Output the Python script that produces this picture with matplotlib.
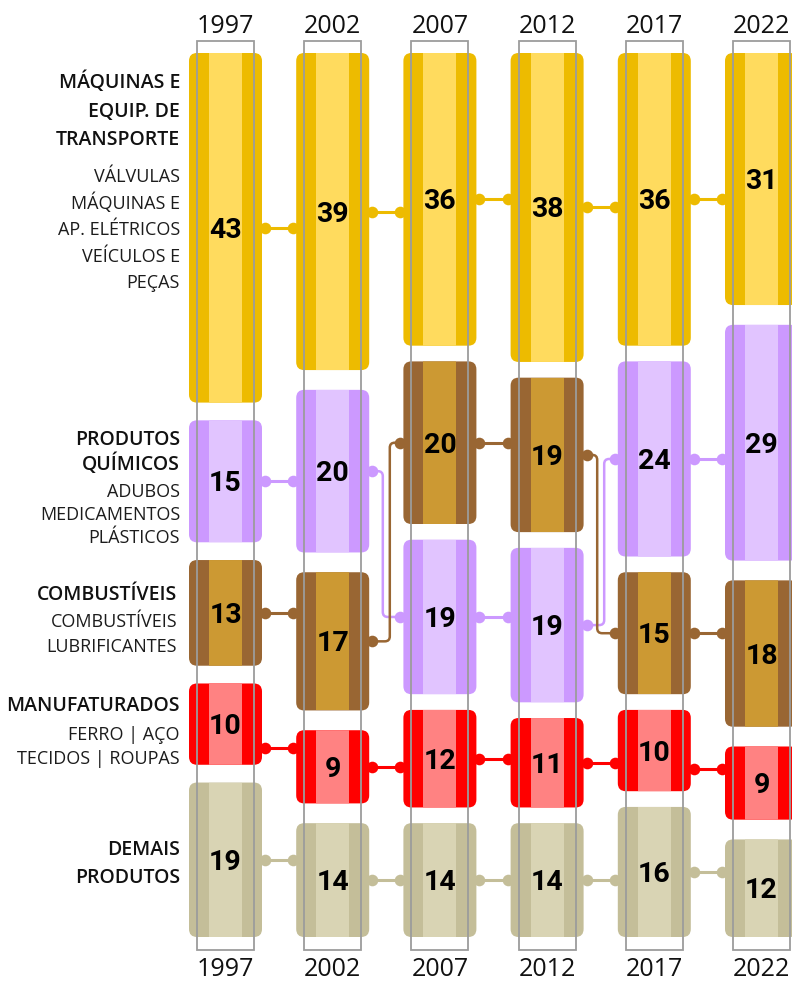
import matplotlib
matplotlib.use('Agg')
import matplotlib.pyplot as plt
from matplotlib.patches import FancyBboxPatch, Rectangle, PathPatch
from matplotlib.path import Path

# data
years = ['1997', '2002', '2007', '2012', '2017', '2022']
categories = ['maq', 'quim', 'comb', 'manuf', 'demais']

maquinas = [43, 39, 36, 38, 36, 31]
quimicos = [15, 20, 19, 19, 24, 29]
combustiveis = [13, 17, 20, 19, 15, 18]
manufaturados = [10, 9, 12, 11, 10, 9]
demais = [19, 14, 14, 14, 16, 12]

values = {'maq': maquinas, 'quim': quimicos, 'comb': combustiveis,
          'manuf': manufaturados, 'demais': demais}

# order of the blocks, top to bottom, in each year
stack_order = [
    ['maq', 'quim', 'comb', 'manuf', 'demais'],
    ['maq', 'quim', 'comb', 'manuf', 'demais'],
    ['maq', 'comb', 'quim', 'manuf', 'demais'],
    ['maq', 'comb', 'quim', 'manuf', 'demais'],
    ['maq', 'quim', 'comb', 'manuf', 'demais'],
    ['maq', 'quim', 'comb', 'manuf', 'demais'],
]

headings = {
    'maq': ['MÁQUINAS E', 'EQUIP. DE', 'TRANSPORTE'],
    'quim': ['PRODUTOS', 'QUÍMICOS'],
    'comb': ['COMBUSTÍVEIS'],
    'manuf': ['MANUFATURADOS'],
    'demais': ['DEMAIS', 'PRODUTOS'],
}
sublabels = {
    'maq': ['VÁLVULAS', 'MÁQUINAS E', 'AP. ELÉTRICOS', 'VEÍCULOS E', 'PEÇAS'],
    'quim': ['ADUBOS', 'MEDICAMENTOS', 'PLÁSTICOS'],
    'comb': ['COMBUSTÍVEIS', 'LUBRIFICANTES'],
    'manuf': ['FERRO | AÇO', 'TECIDOS | ROUPAS'],
    'demais': [],
}

# colours: (stripes / connectors, middle)
colors = {
    'maq': ('#EDBB00', '#FFDB5E'),
    'quim': ('#CC99FF', '#E1C4FF'),
    'comb': ('#996633', '#CC9933'),
    'manuf': ('#FF0000', '#FF8282'),
    'demais': ('#C4BE99', '#D9D4B4'),
}

# layout (pixels)
W, H = 792, 981
X0, PX_X = 225.5, 107.2     # first column centre, column spacing
Y0, PX_Y = 53, 8.13         # stack top, pixels per percentage point
STACK = (937 - Y0) / PX_Y


def dx(p):
    return p / PX_X


def dy(p):
    return p / PX_Y


def X(p):
    return (p - X0) / PX_X


def Y(p):
    return (p - Y0) / PX_Y


fig = plt.figure(figsize=(W / 100, H / 100), dpi=100)
ax = fig.add_axes([0, 0, 1, 1])
ax.set_xlim(X(0), X(W))
ax.set_ylim(Y(H), Y(0))
ax.axis('off')

bw = dx(73)
sw = dx(20)
spans = {c: [None] * len(years) for c in categories}

for i in range(len(years)):
    vals = [values[c][i] for c in stack_order[i]]
    gap = (STACK - sum(vals)) / (len(vals) - 1)
    top = 0
    for c in stack_order[i]:
        v = values[c][i]
        dark, light = colors[c]
        x = i - bw / 2
        box = FancyBboxPatch((x, top), bw, v,
                             boxstyle='round,pad=0,rounding_size=%f' % dx(8),
                             mutation_aspect=PX_X / PX_Y,
                             fc=dark, ec='none', zorder=2)
        ax.add_patch(box)
        mid = Rectangle((x + sw, top), bw - 2 * sw, v, fc=light, ec='none', zorder=2.1)
        ax.add_patch(mid)
        mid.set_clip_path(box)
        spans[c][i] = (top, top + v)
        ax.text(i, top + v / 2 + dy(10), str(v), ha='center', va='baseline',
                fontsize=20.5, fontweight='bold', family='Roboto', color='black', zorder=6)
        top += v + gap

# connectors
m = dy(10)
rx, ry = dx(5), dy(5)
for c in categories:
    dark = colors[c][0]
    for i in range(len(years) - 1):
        s0, s1 = spans[c][i]
        t0, t1 = spans[c][i + 1]
        sc = (s0 + s1) / 2
        tc = (t0 + t1) / 2
        xs = i + bw / 2
        xt = i + 1 - bw / 2
        lo, hi = max(s0, t0), min(s1, t1)
        if t0 + m <= sc <= t1 - m:
            ya = yb = sc
        elif hi - lo > 2 * m:
            ya = yb = (lo + hi) / 2
        else:
            ya, yb = sc, tc
        if ya == yb:
            ax.plot([xs, xt], [ya, yb], color=dark, lw=2.2, zorder=1,
                    solid_capstyle='butt')
        else:
            down = 1 if yb > ya else -1
            xm = i + 0.5 - down * dx(3.5)
            verts = [(xs, ya), (xm - rx, ya), (xm, ya), (xm, ya + down * ry),
                     (xm, yb - down * ry), (xm, yb), (xm + rx, yb), (xt, yb)]
            codes = [Path.MOVETO, Path.LINETO, Path.CURVE3, Path.CURVE3,
                     Path.LINETO, Path.CURVE3, Path.CURVE3, Path.LINETO]
            ax.add_patch(PathPatch(Path(verts, codes), fill=False, ec=dark,
                                   lw=1.8, zorder=1))
        ax.scatter([xs + dx(3), xt - dx(3)], [ya, yb], s=70, color=dark,
                   linewidths=0, zorder=3)

# grey frames and year labels
for i, yr in enumerate(years):
    ax.add_patch(Rectangle((i - dx(28.5), Y(41)), dx(57), dy(950 - 41),
                           fill=False, ec='#9c9c9c', lw=1.3, zorder=5))
    ax.text(i, Y(33), yr, ha='center', va='baseline', fontsize=18,
            family='Open Sans', color='#111111')
    ax.text(i, Y(976), yr, ha='center', va='baseline', fontsize=18,
            family='Open Sans', color='#111111')

# category labels: (right edge, first heading baseline, step, first sub baseline, step)
label_pos = {
    'maq': (180, 88, 28.5, 182, 26.5),
    'quim': (180, 445, 25, 497, 23),
    'comb': (177, 600, 25, 627, 24.5),
    'manuf': (180, 711, 25, 740, 24),
    'demais': (180, 855, 28, 0, 0),
}
for c in categories:
    xr, hb, hs, sb, ss = label_pos[c]
    for k, line in enumerate(headings[c]):
        ax.text(X(xr), Y(hb + k * hs), line, ha='right', va='baseline',
                fontsize=14, fontweight='semibold', family='Open Sans',
                color='#111111')
    for k, line in enumerate(sublabels[c]):
        ax.text(X(xr), Y(sb + k * ss), line, ha='right', va='baseline',
                fontsize=13, family='Open Sans', color='#1c1c1c')

fig.savefig('out.png', dpi=100)
